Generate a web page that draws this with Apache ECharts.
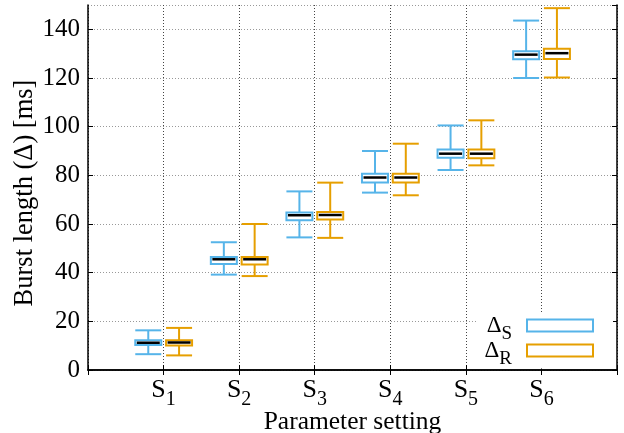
<!DOCTYPE html>
<html>
<head>
<meta charset="utf-8">
<script src="https://cdn.jsdelivr.net/npm/echarts@6/dist/echarts.min.js"></script>
<style>
html, body { margin: 0; padding: 0; background: #fff; }
#chart { width: 624px; height: 433px; }
</style>
</head>
<body>
<div id="chart"></div>
<script>
// setting index shown as subscript, empty slots pad the axis on both ends
var categories = ['', '1', '2', '3', '4', '5', '6', ''];
var yTicks = [0, 20, 40, 60, 80, 100, 120, 140];

// [category index, lower whisker, Q1, median, Q3, upper whisker]
var deltaS = [
  [1, 6.5, 10.3, 11.2, 12.2, 16.3],
  [2, 39.2, 43.6, 45.5, 46.4, 52.5],
  [3, 54.5, 61.5, 63.6, 64.7, 73.4],
  [4, 72.9, 77.1, 79.1, 80.6, 90.0],
  [5, 82.2, 87.2, 88.9, 90.6, 100.5],
  [6, 120.0, 127.7, 129.6, 131.0, 143.6]
];
var deltaR = [
  [1, 6.0, 10.1, 11.3, 12.2, 17.3],
  [2, 38.6, 43.4, 45.5, 46.4, 60.0],
  [3, 54.3, 61.8, 63.7, 64.9, 77.0],
  [4, 71.8, 77.1, 79.1, 80.6, 93.0],
  [5, 84.1, 87.0, 88.9, 90.6, 102.6],
  [6, 120.2, 127.8, 130.2, 132.0, 148.7]
];

var blue = '#56B4E9';
var orange = '#E69F00';
var serif = 'Liberation Serif';

function boxItem(color, shift) {
  return function (params, api) {
    var x = api.value(0);
    var lo = api.coord([x, api.value(1)]);
    var q1 = api.coord([x, api.value(2)]);
    var md = api.coord([x, api.value(3)]);
    var q3 = api.coord([x, api.value(4)]);
    var hi = api.coord([x, api.value(5)]);
    var cx = lo[0] + shift;
    var half = 13;
    var st = { stroke: color, lineWidth: 2, fill: null };
    return {
      type: 'group',
      children: [
        { type: 'line', shape: { x1: cx, y1: lo[1], x2: cx, y2: q1[1] }, style: st },
        { type: 'line', shape: { x1: cx, y1: q3[1], x2: cx, y2: hi[1] }, style: st },
        { type: 'line', shape: { x1: cx - half, y1: lo[1], x2: cx + half, y2: lo[1] }, style: st },
        { type: 'line', shape: { x1: cx - half, y1: hi[1], x2: cx + half, y2: hi[1] }, style: st },
        { type: 'rect', shape: { x: cx - half, y: q3[1], width: 2 * half, height: q1[1] - q3[1] },
          style: { stroke: color, lineWidth: 2, fill: '#fff' } },
        { type: 'line', shape: { x1: cx - half + 1.5, y1: md[1], x2: cx + half - 1.5, y2: md[1] },
          style: { stroke: '#000', lineWidth: 2.5 } }
      ]
    };
  };
}

var legendRich = {
  d: { fontSize: 23, fontFamily: serif, color: '#000' },
  s: { fontSize: 19, fontFamily: serif, color: '#000', padding: [17, 10, 0, 0] }
};
function legendFor(name, color, top) {
  return {
    orient: 'vertical',
    right: 11,
    top: top,
    align: 'right',
    padding: [0, 19, 0, 10],
    backgroundColor: '#fff',
    itemWidth: 66,
    itemHeight: 12,
    selectedMode: false,
    data: [{ name: name, icon: 'rect', itemStyle: { color: '#fff', borderColor: color, borderWidth: 2 } }],
    formatter: function (n) { return '{d|Δ}{s|' + n + '}'; },
    textStyle: { rich: legendRich }
  };
}

var axisLineStyle = { color: '#000', width: 1.5 };

var option = {
  animation: false,
  backgroundColor: '#fff',
  grid: { left: 88, right: 7, top: 5, bottom: 63, outerBoundsMode: 'none', containLabel: false },
  legend: [legendFor('S', blue, 314), legendFor('R', orange, 339)],
  xAxis: [
    {
      type: 'category',
      data: categories,
      boundaryGap: false,
      axisLine: { lineStyle: axisLineStyle },
      axisTick: { inside: true, length: 5, lineStyle: { color: '#000' } },
      axisLabel: {
        margin: 1,
        interval: 0,
        formatter: function (v) { return v ? '{m|S}{s|' + v + '}' : ''; },
        rich: {
          m: { fontSize: 26, fontFamily: serif, color: '#000' },
          s: { fontSize: 20, fontFamily: serif, color: '#000', padding: [19, 0, 0, 0] }
        }
      },
      splitLine: { show: true, lineStyle: { color: '#444', width: 1, type: [1, 2] } },
      name: 'Parameter setting',
      nameLocation: 'middle',
      nameGap: 39,
      nameMoveOverlap: false,
      nameTextStyle: { fontSize: 25.5, fontFamily: serif, color: '#000' }
    },
    {
      type: 'category',
      position: 'top',
      data: categories,
      boundaryGap: false,
      axisLine: { lineStyle: axisLineStyle },
      axisTick: { inside: true, length: 5, lineStyle: { color: '#000' } },
      axisLabel: { show: false },
      splitLine: { show: false }
    }
  ],
  yAxis: [
    {
      type: 'value',
      min: 0,
      max: 150,
      interval: 20,
      axisLine: { show: true, lineStyle: axisLineStyle },
      axisTick: { show: true, inside: true, length: 5, lineStyle: { color: '#000' } },
      axisLabel: {
        margin: 8,
        showMaxLabel: false,
        fontSize: 25,
        fontFamily: serif,
        color: '#000',
        formatter: function (v) { return yTicks.indexOf(v) >= 0 ? String(v) : ''; }
      },
      splitLine: { show: true, lineStyle: { color: '#999', width: 1, type: [1, 2] } },
      name: 'Burst length (Δ) [ms]',
      nameLocation: 'middle',
      nameGap: 49,
      nameMoveOverlap: false,
      nameTextStyle: { fontSize: 26.5, fontFamily: serif, color: '#000', padding: [0, 11, 0, 0] }
    },
    {
      type: 'value',
      position: 'right',
      min: 0,
      max: 150,
      interval: 20,
      axisLine: { show: true, lineStyle: axisLineStyle },
      axisTick: { show: true, inside: true, length: 5, lineStyle: { color: '#000' } },
      axisLabel: { show: false },
      splitLine: { show: false }
    }
  ],
  series: [
    {
      name: 'S',
      type: 'custom',
      itemStyle: { color: blue },
      renderItem: boxItem(blue, -15.3),
      encode: { x: 0, y: [1, 2, 3, 4, 5] },
      data: deltaS,
      z: 3
    },
    {
      name: 'R',
      type: 'custom',
      itemStyle: { color: orange },
      renderItem: boxItem(orange, 15.5),
      encode: { x: 0, y: [1, 2, 3, 4, 5] },
      data: deltaR,
      z: 3
    }
  ]
};

var chart = echarts.init(document.getElementById('chart'));
chart.setOption(option);
</script>
</body>
</html>
